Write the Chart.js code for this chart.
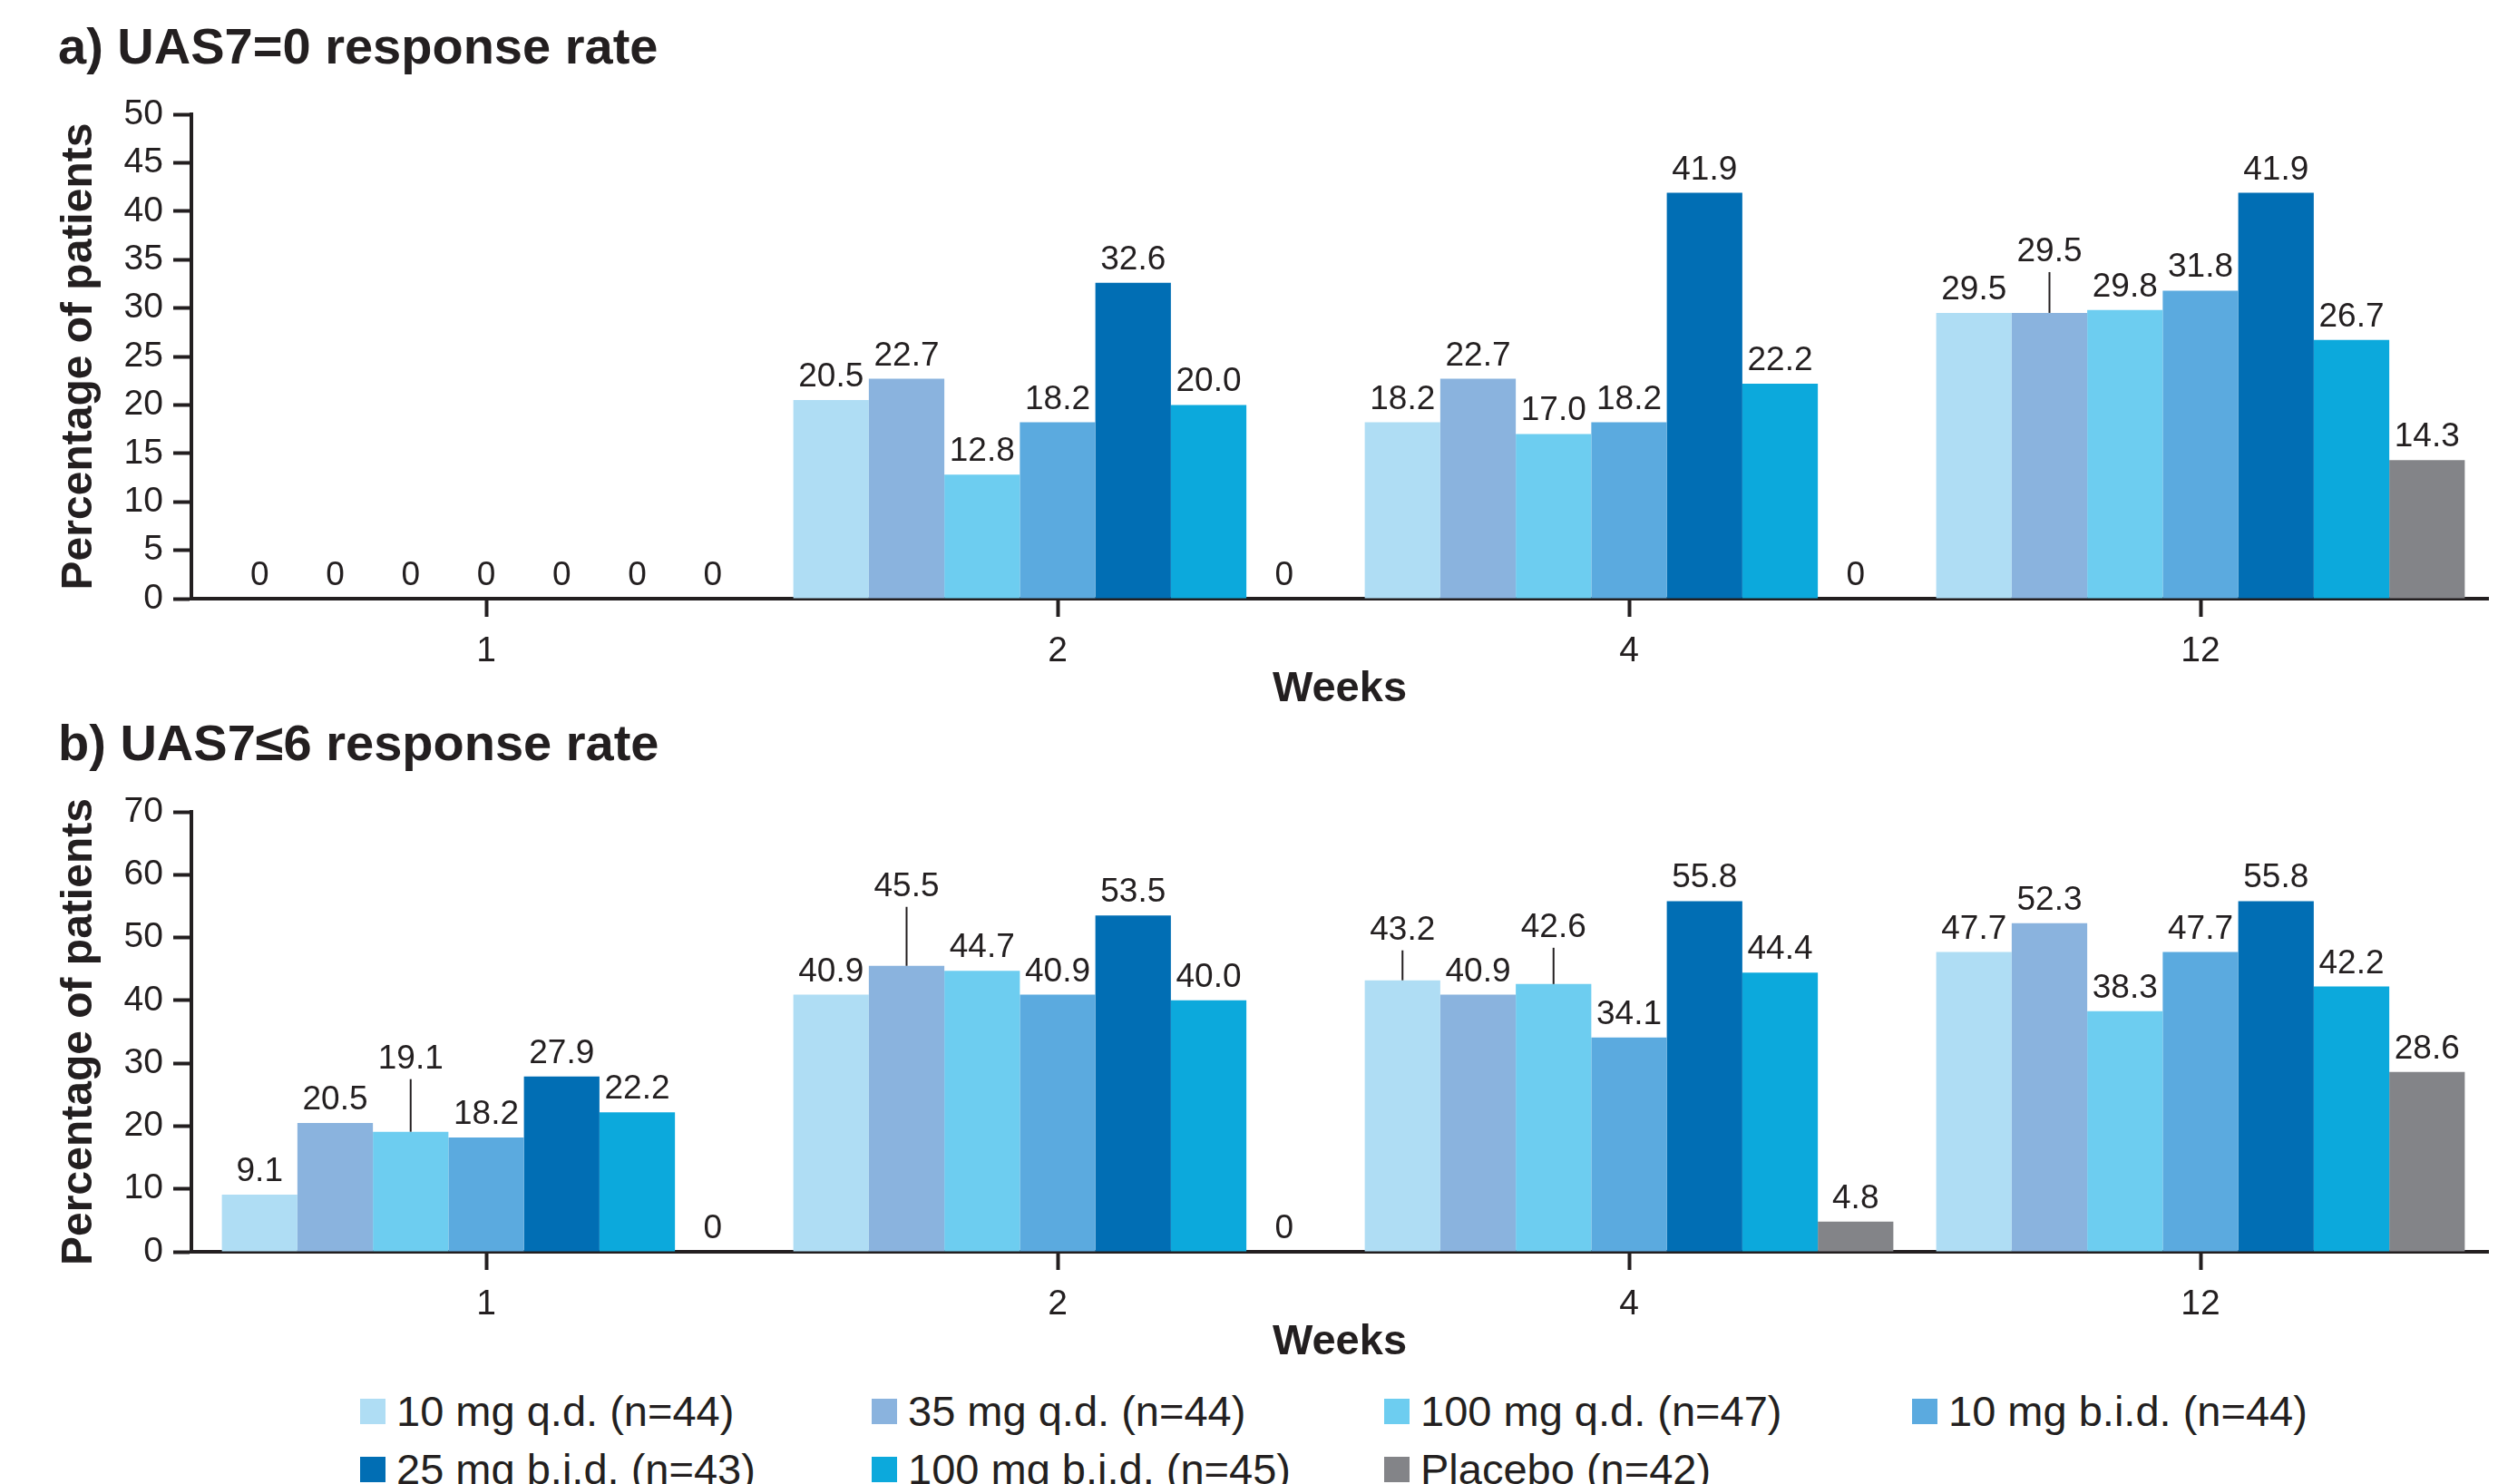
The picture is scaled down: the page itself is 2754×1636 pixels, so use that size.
<!DOCTYPE html>
<html>
<head>
<meta charset="utf-8">
<title>UAS7 response rates</title>
<script src="https://cdn.jsdelivr.net/npm/chart.js@4.4.1/dist/chart.umd.min.js"></script>
<style>
  html, body { margin: 0; padding: 0; background: #fff; }
  body { width: 2754px; height: 1636px; position: relative; overflow: hidden;
         font-family: "Liberation Sans", Arial, Helvetica, sans-serif; color: #231f20; }
  #canvasA { position: absolute; left: 0; top: 0; }
  #canvasB { position: absolute; left: 0; top: 785px; }
  #legend { position: absolute; left: 0; top: 1505px; width: 2754px; height: 131px; }
  .item { position: absolute; display: flex; align-items: center; height: 50px;
          font-size: 47px; line-height: 50px; white-space: nowrap; color: #231f20; }
  .swatch { width: 28px; height: 28px; margin-right: 12px; flex: none; }
</style>
</head>
<body>
<canvas id="canvasA" width="2754" height="785"></canvas>
<canvas id="canvasB" width="2754" height="720"></canvas>
<div id="legend"></div>
<script>
// ---- categories and series ----
const weeks = ['1', '2', '4', '12'];
const seriesNames = ['10 mg q.d. (n=44)', '35 mg q.d. (n=44)', '100 mg q.d. (n=47)', '10 mg b.i.d. (n=44)',
                     '25 mg b.i.d. (n=43)', '100 mg b.i.d. (n=45)', 'Placebo (n=42)'];
const seriesColors = ['#afddf4', '#8ab3de', '#6dcdf0', '#5baadf', '#016eb4', '#0ca9dc', '#838488'];

// a) UAS7=0 response rate (% of patients), per week
const zero10qd   = [0, 20.5, 18.2, 29.5];
const zero35qd   = [0, 22.7, 22.7, 29.5];
const zero100qd  = [0, 12.8, 17.0, 29.8];
const zero10bid  = [0, 18.2, 18.2, 31.8];
const zero25bid  = [0, 32.6, 41.9, 41.9];
const zero100bid = [0, 20.0, 22.2, 26.7];
const zeroPlacebo = [0, 0, 0, 14.3];

// b) UAS7<=6 response rate (% of patients), per week
const low10qd   = [9.1, 40.9, 43.2, 47.7];
const low35qd   = [20.5, 45.5, 40.9, 52.3];
const low100qd  = [19.1, 44.7, 42.6, 38.3];
const low10bid  = [18.2, 40.9, 34.1, 47.7];
const low25bid  = [27.9, 53.5, 55.8, 55.8];
const low100bid = [22.2, 40.0, 44.4, 42.2];
const lowPlacebo = [0, 0, 4.8, 28.6];

// y-axis tick labels
const yTicksA = [0, 5, 10, 15, 20, 25, 30, 35, 40, 45, 50];
const yTicksB = [0, 10, 20, 30, 40, 50, 60, 70];

// ---- styling ----
const INK = '#231f20';
const FAMILY = '"Liberation Sans", Arial, Helvetica, sans-serif';

// labels that sit higher with a leader line (dataset index, week index, lift in px)
const liftedA = [{ ds: 1, i: 3, px: 42 }];
const liftedB = [{ ds: 2, i: 0, px: 55 }, { ds: 1, i: 1, px: 62 }, { ds: 0, i: 2, px: 30 }, { ds: 2, i: 2, px: 37 }];

// the week categories sit slightly inside the drawn axis line
const categoryInset = {
  id: 'categoryInset',
  beforeDatasetsUpdate(chart) {
    const x = chart.scales.x;
    x._startPixel = x.left + 10;
    x._endPixel = x.right - 2;
    x._length = x._endPixel - x._startPixel;
  }
};

// value labels drawn above each bar
const valueLabels = {
  id: 'valueLabels',
  afterDatasetsDraw(chart, args, opts) {
    const ctx = chart.ctx;
    const lifts = opts.lifts || [];
    ctx.save();
    ctx.font = '37px ' + FAMILY;
    ctx.fillStyle = INK;
    ctx.strokeStyle = INK;
    ctx.lineWidth = 2;
    ctx.textAlign = 'center';
    ctx.textBaseline = 'alphabetic';
    chart.data.datasets.forEach((ds, di) => {
      const meta = chart.getDatasetMeta(di);
      meta.data.forEach((bar, i) => {
        const v = ds.data[i];
        const text = v === 0 ? '0' : v.toFixed(1);
        const lift = lifts.find(l => l.ds === di && l.i === i);
        const baseY = bar.y - 15 - (lift ? lift.px : 0);
        if (lift) {
          ctx.beginPath();
          ctx.moveTo(bar.x, bar.y);
          ctx.lineTo(bar.x, baseY + 12);
          ctx.stroke();
        }
        ctx.fillText(text, bar.x, baseY);
      });
    });
    ctx.restore();
  }
};

function makeDatasets(seriesList) {
  return seriesList.map((values, k) => ({
    label: seriesNames[k],
    data: values,
    backgroundColor: seriesColors[k],
    borderWidth: 0,
    categoryPercentage: 0.925,
    barPercentage: 1.0
  }));
}

function makeChart(canvasId, titleText, titlePad, seriesList, yMax, yTicks, lifts) {
  return new Chart(document.getElementById(canvasId), {
    type: 'bar',
    data: { labels: weeks, datasets: makeDatasets(seriesList) },
    plugins: [categoryInset, valueLabels],
    options: {
      responsive: false,
      animation: false,
      events: [],
      layout: { padding: { left: 64, right: 11, top: 0, bottom: 0 } },
      plugins: {
        legend: { display: false },
        tooltip: { enabled: false },
        title: {
          display: true, text: titleText, align: 'start', color: INK,
          font: { family: FAMILY, size: 56, weight: 'bold', lineHeight: 1 },
          padding: titlePad
        },
        valueLabels: { lifts: lifts }
      },
      scales: {
        x: {
          afterFit: s => { s.height = 125; },
          border: { display: true, width: 4, color: INK },
          grid: { offset: false, drawOnChartArea: false, drawTicks: true, tickLength: 20, tickWidth: 4, tickColor: INK },
          ticks: { color: INK, font: { family: FAMILY, size: 39 }, padding: 15 },
          title: { display: true, text: 'Weeks', color: INK,
                   font: { family: FAMILY, size: 47, weight: 'bold', lineHeight: 1 },
                   padding: { top: 0, bottom: 1 } }
        },
        y: {
          min: 0, max: yMax,
          afterBuildTicks: s => { s.ticks = yTicks.map(v => ({ value: v })); },
          afterFit: s => { s.width = 147; },
          border: { display: true, width: 4, color: INK },
          grid: { drawOnChartArea: false, drawTicks: true, tickLength: 20, tickWidth: 4, tickColor: INK },
          ticks: { color: INK, font: { family: FAMILY, size: 39 }, padding: 11 },
          title: { display: true, text: 'Percentage of patients', color: INK,
                   font: { family: FAMILY, size: 48, weight: 'bold', lineHeight: 1 },
                   padding: 0 }
        }
      }
    }
  });
}

makeChart('canvasA', 'a) UAS7=0 response rate', { top: 27, bottom: 43 },
  [zero10qd, zero35qd, zero100qd, zero10bid, zero25bid, zero100bid, zeroPlacebo], 50, yTicksA, liftedA);
makeChart('canvasB', 'b) UAS7\u22646 response rate', { top: 10, bottom: 44 },
  [low10qd, low35qd, low100qd, low10bid, low25bid, low100bid, lowPlacebo], 70, yTicksB, liftedB);

// legend: four columns, two rows
const legendCols = [397, 961, 1526, 2108];
const legendRows = [26, 90];
const legendEl = document.getElementById('legend');
seriesNames.forEach((name, k) => {
  const item = document.createElement('div');
  item.className = 'item';
  item.style.left = legendCols[k % 4] + 'px';
  item.style.top = legendRows[Math.floor(k / 4)] + 'px';
  const sw = document.createElement('span');
  sw.className = 'swatch';
  sw.style.background = seriesColors[k];
  const tx = document.createElement('span');
  tx.textContent = name;
  item.appendChild(sw);
  item.appendChild(tx);
  legendEl.appendChild(item);
});
</script>
</body>
</html>
